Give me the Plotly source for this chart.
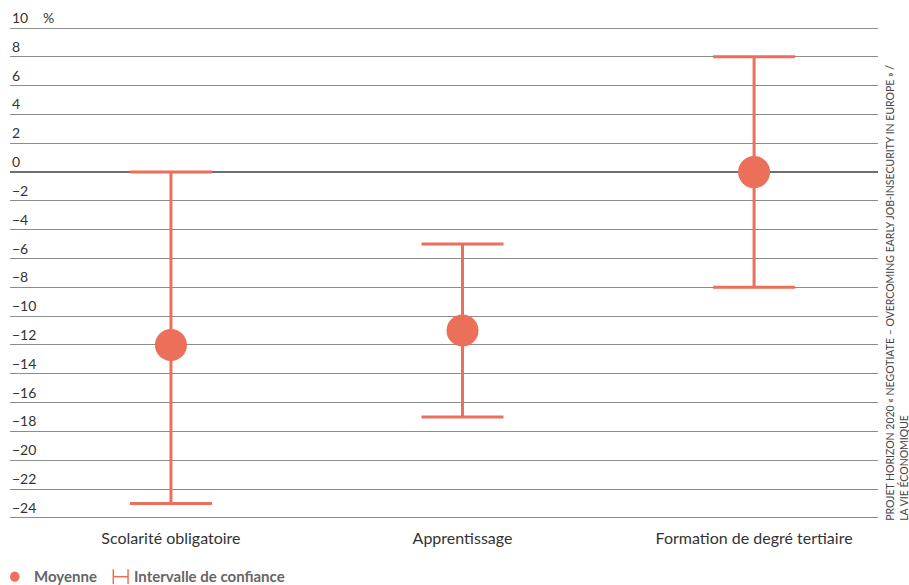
import plotly.graph_objects as go

categories = ["Scolarité obligatoire", "Apprentissage", "Formation de degré tertiaire"]
means = [-12, -11, 0]
ci_upper = [0, -5, 8]
ci_lower = [-23, -17, -8]
y_ticks = [10, 8, 6, 4, 2, 0, -2, -4, -6, -8, -10, -12, -14, -16, -18, -20, -22, -24]

COLOR = "#ec6f5a"
FONT = "Lato"
TXT = "#333333"

xs = list(range(len(categories)))
err_plus = [u - m for u, m in zip(ci_upper, means)]
err_minus = [m - l for m, l in zip(means, ci_lower)]

fig = go.Figure()
fig.add_trace(go.Scatter(
    x=xs, y=means, mode="markers",
    marker=dict(color=COLOR, size=32),
    error_y=dict(type="data", symmetric=False, array=err_plus, arrayminus=err_minus,
                 color=COLOR, thickness=3, width=41),
    showlegend=False, hoverinfo="skip",
))

def tick_text(v):
    s = str(abs(v))
    return ("\u2212" + s) if v < 0 else s

fig.update_layout(
    width=909, height=585,
    margin=dict(l=10, r=31, t=27, b=65, autoexpand=False),
    paper_bgcolor="white", plot_bgcolor="white",
    font=dict(family=FONT, color=TXT, size=14),
    xaxis=dict(range=[-0.552, 2.425], tickvals=xs, ticktext=categories,
               showgrid=False, zeroline=False, showline=False, automargin=False,
               ticks="outside", ticklen=4, tickcolor="rgba(0,0,0,0)",
               tickfont=dict(size=16, color=TXT)),
    yaxis=dict(range=[-24.15, 10.07], tickvals=y_ticks, showticklabels=False, automargin=False,
               showgrid=True, gridcolor="#8c8c8c", gridwidth=1,
               zeroline=True, zerolinecolor="#6f6f6f", zerolinewidth=2,
               showline=False),
    showlegend=False,
)

annotations = []
for v in y_ticks:
    annotations.append(dict(text=tick_text(v), x=0, xref="paper", y=v, yref="y",
                            showarrow=False, xanchor="left", yanchor="bottom",
                            font=dict(size=14, color=TXT)))
annotations += [
    dict(text="%", x=0.036, xref="paper", y=10, yref="y", showarrow=False,
         xanchor="left", yanchor="bottom", font=dict(size=14, color=TXT)),
    dict(text="PROJET HORIZON 2020 « NEGOTIATE – OVERCOMING EARLY JOB-INSECURITY IN EUROPE » /<br>LA VIE ÉCONOMIQUE",
         x=1.005, xref="paper", y=-0.005, yref="paper", showarrow=False, textangle=-90,
         xanchor="left", yanchor="bottom", align="left",
         font=dict(size=10.5, color="#444444", family=FONT)),
    dict(text="<b>Moyenne</b>", x=0.025, xref="paper", y=-0.113, yref="paper", showarrow=False,
         xanchor="left", yanchor="middle", font=dict(size=15, color="#666666")),
    dict(text="<b>Intervalle de confiance</b>", x=0.14, xref="paper", y=-0.113, yref="paper", showarrow=False,
         xanchor="left", yanchor="middle", font=dict(size=15, color="#666666")),
]
fig.update_layout(annotations=annotations)

# legend icons
ly = -0.115
shapes = [
    dict(type="circle", xref="paper", yref="paper", x0=0.0, x1=0.011, y0=ly - 0.0105, y1=ly + 0.0105,
         fillcolor=COLOR, line=dict(width=0)),
    dict(type="line", xref="paper", yref="paper", x0=0.119, x1=0.136, y0=ly, y1=ly,
         line=dict(color=COLOR, width=1.5)),
    dict(type="line", xref="paper", yref="paper", x0=0.119, x1=0.119, y0=ly - 0.015, y1=ly + 0.015,
         line=dict(color=COLOR, width=1.5)),
    dict(type="line", xref="paper", yref="paper", x0=0.136, x1=0.136, y0=ly - 0.015, y1=ly + 0.015,
         line=dict(color=COLOR, width=1.5)),
]
fig.update_layout(shapes=shapes)

fig.write_html("out.html", config={"displayModeBar": False},
               post_script="document.body.style.margin='0';document.body.style.overflow='hidden';")
